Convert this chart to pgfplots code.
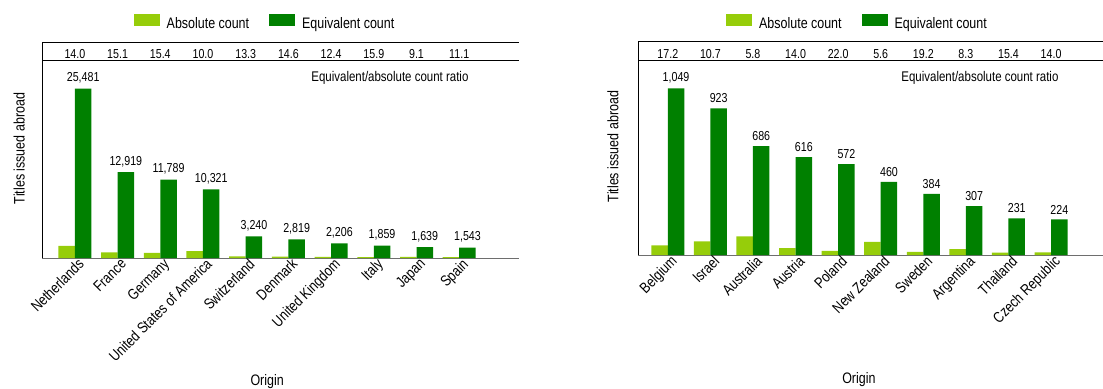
\documentclass[border=0pt]{standalone}
\usepackage{pgfplots}
\pgfplotsset{compat=1.18}
\usepackage{pgfplotstable}
\usepackage{fontspec}
\setmainfont{Liberation Sans}[FakeStretch=0.82]

\definecolor{absgreen}{RGB}{150,205,10}
\definecolor{eqgreen}{RGB}{0,128,0}
\definecolor{axisgray}{RGB}{110,110,110}

\newcommand{\lblfont}{\fontsize{15.2bp}{17bp}\selectfont}
\newcommand{\valfont}{\fontsize{13bp}{15bp}\selectfont}

% x abs eq
\pgfplotstableread{
x abs eq
0 1820 25481
1 856 12919
2 766 11789
3 1032 10321
4 244 3240
5 193 2819
6 178 2206
7 117 1859
8 180 1639
9 139 1543
}\lefttab
\pgfplotstableread{
x abs eq
0 61 1049
1 86 923
2 118 686
3 44 616
4 26 572
5 82 460
6 20 384
7 37 307
8 15 231
9 16 224
}\righttab

\pgfplotsset{
  panel/.style={
    scale only axis,
    ybar=0pt,
    bar width=16.5bp,
    ymin=0,
    axis x line*=bottom,
    axis y line*=left,
    x axis line style={axisgray, line width=1bp},
    y axis line style={black, line width=1bp},
    ytick=\empty,
    xtick=data,
    major tick length=0pt,
    clip=false,
    /pgf/number format/assume math mode=true,
    xticklabel style={rotate=45, anchor=north east, font=\lblfont, inner sep=1bp, xshift=3bp},
    label style={font=\lblfont},
    xlabel={Origin},
    ylabel={Titles issued abroad},
    legend columns=2,
    legend style={draw=none, fill=none, font=\lblfont, nodes={font=\lblfont},
      /tikz/every odd column/.append style={column sep=5bp},
      /tikz/every even column/.append style={column sep=18bp}},
    legend image code/.code={\fill[##1] (0bp,-2bp) rectangle (26bp,10bp);},
  },
  eqbars/.style={fill=eqgreen, draw=none,
    nodes near coords,
    every node near coord/.append style={font=\valfont, black, yshift=0bp},
    nodes near coords style={/pgf/number format/.cd, fixed, precision=0, 1000 sep={,}, assume math mode=true}},
}

\begin{document}
\lblfont
\begin{tikzpicture}
\useasboundingbox (0,0) rectangle (1103bp,389bp);

\begin{axis}[panel,
  at={(42bp,131bp)}, anchor=south west,
  width=477bp, height=197bp,
  xmin=-0.77, xmax=10.4, ymax=29630,
  xticklabels={Netherlands,France,Germany,United States of America,Switzerland,Denmark,United Kingdom,Italy,Japan,Spain},
  xlabel style={at={(axis description cs:0.472,-0.629)}, anchor=center},
  ylabel style={at={(axis description cs:-0.048,0.556)}, anchor=center},
  legend style={at={(axis description cs:0.4675,1.19)}, anchor=center},
]
\addplot[fill=absgreen, draw=none] table[x=x, y=abs] {\lefttab};
\addlegendentry{Absolute count}
\addplot[eqbars] table[x=x, y=eq] {\lefttab};
\addlegendentry{Equivalent count}
\draw[black, line width=1bp] (rel axis cs:0,1) -- (rel axis cs:1,1);
\draw[black, line width=1bp] (rel axis cs:0,1.0964) -- (rel axis cs:1,1.0964);
\draw[black, line width=1bp] (rel axis cs:0,0.99) -- (rel axis cs:0,1.0964);
\foreach \r [count=\i from 0] in {14.0,15.1,15.4,10.0,13.3,14.6,12.4,15.9,9.1,11.1}{
  \edef\tmp{\noexpand\node[font=\noexpand\valfont] at ({axis cs:\i,0} |- {rel axis cs:0,1.037}) {\r};}\tmp}
\node[anchor=east, font=\fontsize{14bp}{16bp}\selectfont] at (rel axis cs:0.905,0.915) {Equivalent/absolute count ratio};
\end{axis}

\begin{axis}[panel,
  at={(638bp,134bp)}, anchor=south west,
  width=465bp, height=194bp,
  xmin=-0.70, xmax=10.22, ymax=1221,
  xticklabels={Belgium,Israel,Australia,Austria,Poland,New Zealand,Sweden,Argentina,Thailand,Czech Republic},
  xlabel style={at={(axis description cs:0.475,-0.644)}, anchor=center},
  ylabel style={at={(axis description cs:-0.054,0.559)}, anchor=center},
  legend style={at={(axis description cs:0.472,1.192)}, anchor=center},
]
\addplot[fill=absgreen, draw=none] table[x=x, y=abs] {\righttab};
\addlegendentry{Absolute count}
\addplot[eqbars] table[x=x, y=eq] {\righttab};
\addlegendentry{Equivalent count}
\draw[black, line width=1bp] (rel axis cs:0,1) -- (rel axis cs:1,1);
\draw[black, line width=1bp] (rel axis cs:0,1.098) -- (rel axis cs:1,1.098);
\draw[black, line width=1bp] (rel axis cs:0,0.99) -- (rel axis cs:0,1.098);
\foreach \r [count=\i from 0] in {17.2,10.7,5.8,14.0,22.0,5.6,19.2,8.3,15.4,14.0}{
  \edef\tmp{\noexpand\node[font=\noexpand\valfont] at ({axis cs:\i,0} |- {rel axis cs:0,1.037}) {\r};}\tmp}
\node[anchor=east, font=\fontsize{14bp}{16bp}\selectfont] at (rel axis cs:0.9155,0.914) {Equivalent/absolute count ratio};
\end{axis}
\end{tikzpicture}
\end{document}
